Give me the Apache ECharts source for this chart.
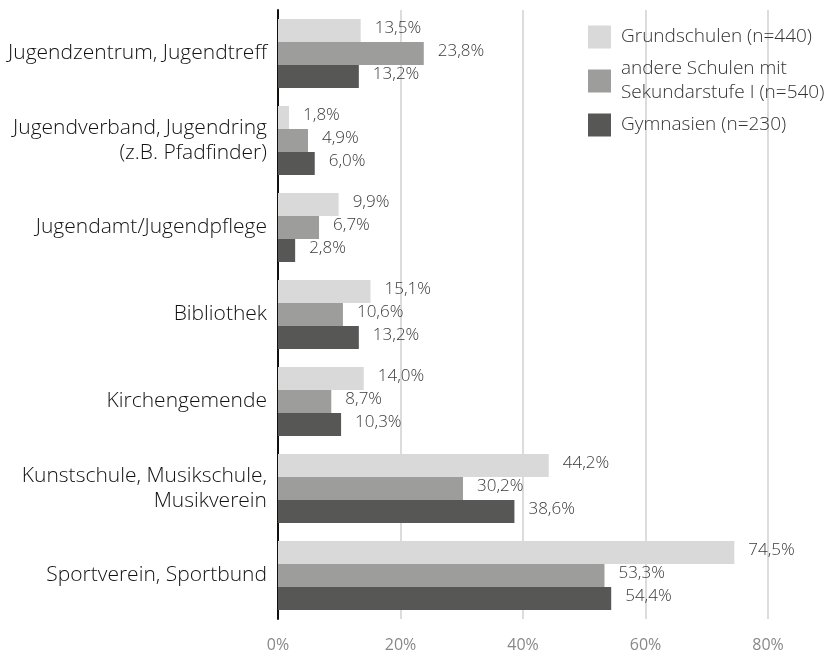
<!DOCTYPE html>
<html>
<head>
<meta charset="utf-8">
<script src="https://cdn.jsdelivr.net/npm/echarts@6/dist/echarts.min.js"></script>
<style>
  html, body { margin: 0; padding: 0; background: #fff; }
  #chart { width: 833px; height: 656px; }
</style>
</head>
<body>
<div id="chart"></div>
<script>
const categories = [
  "Jugendzentrum, Jugendtreff",
  "Jugendverband, Jugendring\n(z.B. Pfadfinder)",
  "Jugendamt/Jugendpflege",
  "Bibliothek",
  "Kirchengemende",
  "Kunstschule, Musikschule,\nMusikverein",
  "Sportverein, Sportbund"
];
const seriesNames = [
  "Grundschulen (n=440)",
  "andere Schulen mit\nSekundarstufe I (n=540)",
  "Gymnasien (n=230)"
];
const grundschulen = [13.5, 1.8, 9.9, 15.1, 14.0, 44.2, 74.5];
const andereSchulen = [23.8, 4.9, 6.7, 10.6, 8.7, 30.2, 53.3];
const gymnasien = [13.2, 6.0, 2.8, 13.2, 10.3, 38.6, 54.4];
const colors = ["#d9d9d9", "#9d9d9b", "#575756"];

const font = "Open Sans";
const chart = echarts.init(document.getElementById("chart"));

function makeSeries(name, data, color) {
  return {
    name: name,
    type: "bar",
    data: data,
    barWidth: 23,
    barGap: "0%",
    itemStyle: { color: color },
    label: {
      show: true,
      position: "right",
      distance: 14,
      offset: [0, -2],
      color: "#3a3a3a",
      fontFamily: font,
      fontWeight: 300,
      fontSize: 17,
      formatter: function (p) {
        return p.value.toFixed(1).replace(".", ",") + "%";
      }
    }
  };
}

const option = {
  backgroundColor: "#fff",
  animation: false,
  textStyle: { fontFamily: font },
  legend: {
    orient: "vertical",
    left: 583,
    top: 19,
    itemWidth: 23,
    itemHeight: 23,
    itemGap: 6,
    icon: "rect",
    textStyle: {
      fontFamily: font,
      fontWeight: 300,
      fontSize: 19,
      color: "#333",
      lineHeight: 24,
      padding: [2, 0, 0, 5]
    },
    data: seriesNames
  },
  grid: { left: 278, right: 65, top: 10, bottom: 37, containLabel: false },
  xAxis: {
    type: "value",
    min: 0,
    max: 80,
    interval: 20,
    axisLine: { show: false },
    axisTick: { show: false },
    splitLine: { lineStyle: { color: "#dcdcdc", width: 2 } },
    axisLabel: {
      formatter: "{value}%",
      color: "#888",
      fontFamily: font,
      fontWeight: 400,
      fontSize: 16,
      margin: 18
    }
  },
  yAxis: {
    type: "category",
    inverse: true,
    data: categories,
    axisLine: { show: true, lineStyle: { color: "#111", width: 2 } },
    axisTick: { show: false },
    axisLabel: {
      color: "#111",
      fontFamily: font,
      fontWeight: 300,
      fontSize: 21,
      lineHeight: 25,
      margin: 11,
      align: "right"
    }
  },
  series: [
    makeSeries(seriesNames[0], grundschulen, colors[0]),
    makeSeries(seriesNames[1], andereSchulen, colors[1]),
    makeSeries(seriesNames[2], gymnasien, colors[2])
  ]
};

chart.setOption(option);
</script>
</body>
</html>
